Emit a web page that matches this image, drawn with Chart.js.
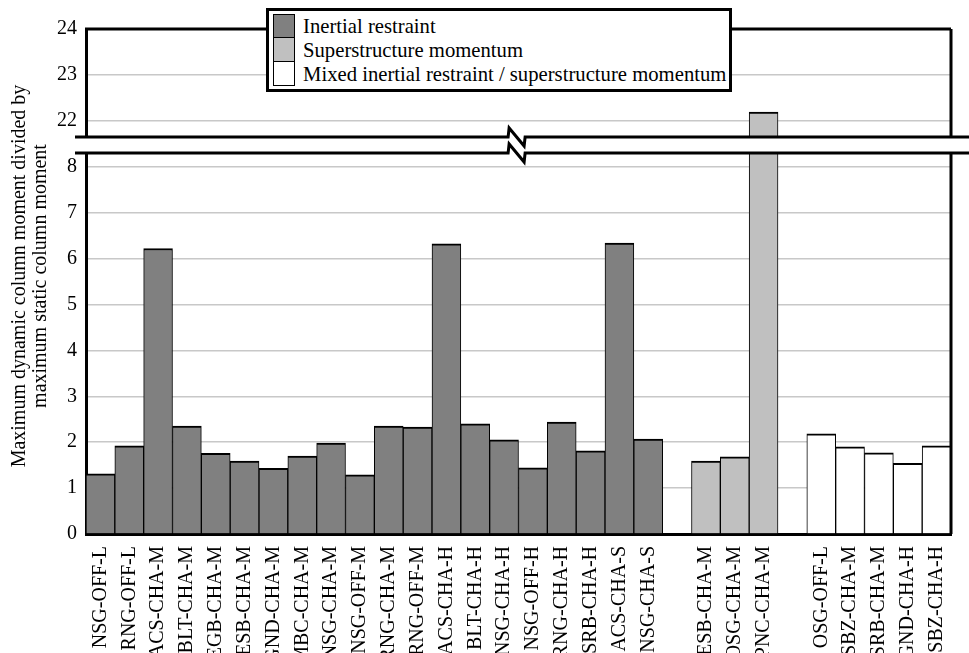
<!DOCTYPE html>
<html>
<head>
<meta charset="utf-8">
<script src="https://cdn.jsdelivr.net/npm/chart.js@4.4.1/dist/chart.umd.min.js"></script>
<style>
  body { margin: 0; background: #fff; }
  #wrap { position: relative; width: 969px; height: 653px; overflow: hidden; }
  #wrap canvas { position: absolute; left: 0; top: 0; }
  #legend {
    position: absolute; left: 266px; top: 8px; width: 460px; height: 78px;
    border: 3px solid #000; background: #fff;
    font-family: 'Liberation Serif'; font-size: 20.7px; color: #000;
  }
  #legend ul { list-style: none; margin: 0; padding: 3px 0 0 4px; }
  #legend li { display: flex; align-items: center; height: 24px; line-height: 24px; white-space: nowrap; }
  #legend .sw { width: 22px; height: 24px; box-sizing: border-box; border: 1.5px solid #000; margin-right: 8px; flex: none; }
  #legend li + li .sw { border-top-width: 0; }
</style>
</head>
<body>
<div id="wrap">
  <canvas id="lowerChart" width="969" height="653"></canvas>
  <canvas id="upperChart" width="969" height="653"></canvas>
  <div id="legend"></div>
</div>
<script>
const inertialLabels = ['NSG-OFF-L', 'RNG-OFF-L', 'ACS-CHA-M', 'BLT-CHA-M', 'EGB-CHA-M', 'ESB-CHA-M', 'GND-CHA-M',
  'MBC-CHA-M', 'NSG-CHA-M', 'NSG-OFF-M', 'RNG-CHA-M', 'RNG-OFF-M', 'ACS-CHA-H', 'BLT-CHA-H', 'NSG-CHA-H',
  'NSG-OFF-H', 'RNG-CHA-H', 'SRB-CHA-H', 'ACS-CHA-S', 'NSG-CHA-S'];
const inertialValues = [1.31, 1.92, 6.22, 2.35, 1.76, 1.59, 1.43, 1.70, 1.98, 1.29, 2.35, 2.33, 6.32, 2.40, 2.05,
  1.44, 2.44, 1.81, 6.34, 2.07];

const superLabels = ['ESB-CHA-M', 'OSG-CHA-M', 'PNC-CHA-M'];
const superValues = [1.59, 1.68, 22.19];

const mixedLabels = ['OSG-OFF-L', 'SBZ-CHA-M', 'SRB-CHA-M', 'GND-CHA-H', 'SBZ-CHA-H'];
const mixedValues = [2.18, 1.90, 1.77, 1.54, 1.92];

const lowerTicks = { min: 0, max: 8.3 };
const upperTicks = { min: 21.65, max: 24 };

const yTitle = ['Maximum dynamic column moment divided by', 'maximum static column moment'];

const FONT = "'Liberation Serif'";

// one empty slot between the groups
const labels = [...inertialLabels, '', ...superLabels, '', ...mixedLabels];
const nI = inertialLabels.length, nS = superLabels.length, nM = mixedLabels.length;
const pad = n => Array(n).fill(null);

Chart.defaults.font.family = FONT;
Chart.defaults.font.size = 20;
Chart.defaults.color = '#000';

function makeDatasets() {
  const common = {
    borderColor: '#000',
    borderWidth: { top: 2, left: 1, right: 1, bottom: 0 },
    borderSkipped: 'start',
    barPercentage: 1,
    categoryPercentage: 1,
    grouped: false,
    clip: 0
  };
  return [
    Object.assign({ label: 'Inertial restraint', backgroundColor: '#808080',
      data: [...inertialValues, ...pad(1 + nS + 1 + nM)] }, common),
    Object.assign({ label: 'Superstructure momentum', backgroundColor: '#c0c0c0',
      data: [...pad(nI + 1), ...superValues, ...pad(1 + nM)] }, common),
    Object.assign({ label: 'Mixed inertial restraint / superstructure momentum', backgroundColor: '#ffffff',
      data: [...pad(nI + 1 + nS + 1), ...mixedValues] }, common)
  ];
}

// frame lines and the axis break marks
const framePlugin = {
  id: 'frame',
  afterDraw(chart, args, opts) {
    const { ctx, chartArea: a, width } = chart;
    ctx.save();
    ctx.strokeStyle = '#000';
    ctx.lineWidth = 3;
    ctx.beginPath();
    ctx.moveTo(a.right, a.top);
    ctx.lineTo(a.right, a.bottom);
    if (opts.upper) {
      ctx.moveTo(a.left - 1, a.top);
      ctx.lineTo(a.right, a.top);
    }
    ctx.stroke();

    const y = opts.upper ? a.bottom : a.top;
    const zx = a.left + (a.right - a.left) * 0.488;
    ctx.beginPath();
    ctx.moveTo(a.left - 11, y);
    ctx.lineTo(zx, y);
    ctx.lineTo(zx + 1, y - 9);
    ctx.lineTo(zx + 16, y + 9);
    ctx.lineTo(zx + 17, y);
    ctx.lineTo(width, y);
    ctx.stroke();
    ctx.restore();
  }
};

const titlePlugin = {
  id: 'ytitle',
  afterDraw(chart, args, opts) {
    if (!opts.lines) return;
    const ctx = chart.ctx;
    ctx.save();
    ctx.fillStyle = '#000';
    ctx.font = '20px ' + FONT;
    ctx.textAlign = 'center';
    ctx.textBaseline = 'middle';
    opts.lines.forEach((line, i) => {
      ctx.save();
      ctx.translate(opts.x + i * 21, opts.y);
      ctx.rotate(-Math.PI / 2);
      ctx.fillText(line, 0, 0);
      ctx.restore();
    });
    ctx.restore();
  }
};

function yScale(range) {
  return {
    min: range.min,
    max: range.max,
    afterFit: s => { s.width = 86; },
    grid: { color: '#c8c8c8', lineWidth: 1.5, drawTicks: false },
    border: { color: '#000', width: 3 },
    ticks: { stepSize: 1, includeBounds: false, padding: 9, color: '#000', font: { family: FONT, size: 20 } }
  };
}

const lowerChart = new Chart(document.getElementById('lowerChart'), {
  type: 'bar',
  data: { labels: labels, datasets: makeDatasets() },
  options: {
    responsive: false,
    animation: false,
    devicePixelRatio: 1,
    layout: { padding: { top: 153, right: 18, left: 0, bottom: 0 } },
    plugins: {
      legend: { display: false },
      tooltip: { enabled: false },
      frame: { upper: false },
      ytitle: { lines: yTitle, x: 20, y: 276 }
    },
    scales: {
      x: {
        afterFit: s => { s.height = 119; },
        grid: { display: false },
        border: { color: '#000', width: 3 },
        ticks: { autoSkip: false, minRotation: 90, maxRotation: 90, padding: 4, color: '#000',
          font: { family: FONT, size: 20 } }
      },
      y: yScale(lowerTicks)
    }
  },
  plugins: [framePlugin, titlePlugin]
});

const upperChart = new Chart(document.getElementById('upperChart'), {
  type: 'bar',
  data: { labels: labels, datasets: makeDatasets() },
  options: {
    responsive: false,
    animation: false,
    devicePixelRatio: 1,
    layout: { padding: { top: 29, right: 18, left: 0, bottom: 516 } },
    plugins: {
      legend: { display: false },
      tooltip: { enabled: false },
      frame: { upper: true },
      ytitle: {}
    },
    scales: {
      x: { display: false },
      y: yScale(upperTicks)
    }
  },
  plugins: [framePlugin, titlePlugin]
});

// legend built from the chart's datasets
const legendEl = document.getElementById('legend');
legendEl.innerHTML = '<ul>' + upperChart.data.datasets.map(ds =>
  `<li><span class="sw" style="background:${ds.backgroundColor}"></span><span>${ds.label}</span></li>`
).join('') + '</ul>';

// redraw once the serif face is ready
if (document.fonts && document.fonts.load) {
  document.fonts.load('20px ' + FONT).then(() => {
    lowerChart.update();
    upperChart.update();
  });
}
</script>
</body>
</html>
